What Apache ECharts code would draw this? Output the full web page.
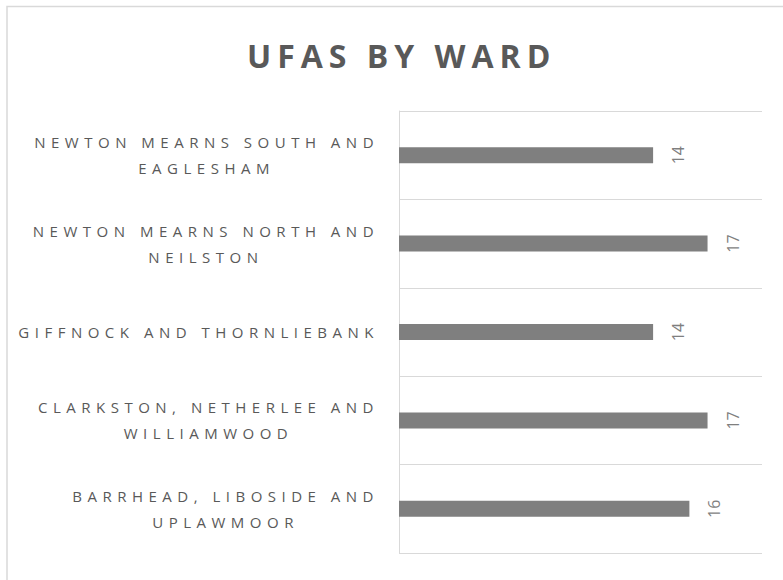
<!DOCTYPE html>
<html>
<head>
<meta charset="utf-8">
<title>UFAS by Ward</title>
<script src="https://cdn.jsdelivr.net/npm/echarts@6/dist/echarts.min.js"></script>
<style>
  html, body { margin: 0; padding: 0; background: #fff; overflow: hidden; }
  #chart { width: 783px; height: 580px; }
  /* spaced-out lettering like the original chart */
  #chart text[style*="32px"] { letter-spacing: 6px; }
  #chart text[style*="15px"] { letter-spacing: 5.5px; }
</style>
</head>
<body>
<div id="chart"></div>
<script>
// wards, top to bottom as shown
var wards = [
  'NEWTON MEARNS SOUTH AND\nEAGLESHAM',
  'NEWTON MEARNS NORTH AND\nNEILSTON',
  'GIFFNOCK AND THORNLIEBANK',
  'CLARKSTON, NETHERLEE AND\nWILLIAMWOOD',
  'BARRHEAD, LIBOSIDE AND\nUPLAWMOOR'
]
var ufasCounts = [14, 17, 14, 17, 16]

// letter spacing per font size, so echarts measures text the way the css draws it
var spacing = { '32px': 6, '15px': 5.5 }
var measureCtx = document.createElement('canvas').getContext('2d')
echarts.setPlatformAPI({
  measureText: function(text, font) {
    measureCtx.font = font || '12px sans-serif'
    var extra = 0
    for (var k in spacing) {
      if (font && font.indexOf(k) >= 0) extra = spacing[k]
    }
    return { width: measureCtx.measureText(text).width + text.length * extra }
  }
})

var chart = echarts.init(document.getElementById('chart'), null, { renderer: 'svg' })

chart.setOption({
  animation: false,
  backgroundColor: '#fff',
  title: {
    text: 'UFAS BY WARD',
    left: 247,
    top: 36,
    padding: 0,
    textStyle: {
      fontFamily: 'Open Sans',
      fontWeight: 'bold',
      fontSize: 32,
      color: '#595959'
    }
  },
  graphic: [{
    type: 'rect',
    shape: { x: 7, y: 6.5, width: 820, height: 620 },
    style: { fill: 'none', stroke: '#d9d9d9', lineWidth: 1.5 },
    silent: true
  }],
  grid: {
    left: 399,
    top: 111,
    right: 21,
    bottom: 27
  },
  xAxis: {
    type: 'value',
    min: 0,
    max: 20,
    show: false
  },
  yAxis: {
    type: 'category',
    inverse: true,
    data: wards,
    axisLine: { show: true, lineStyle: { color: '#d9d9d9', width: 1 } },
    axisTick: { show: false },
    splitLine: { show: true, lineStyle: { color: '#d9d9d9', width: 1 } },
    axisLabel: {
      margin: 20,
      formatter: function(value) {
        // each line centred inside the right-aligned block
        return value.split('\n').map(function(line) {
          return '{c|' + line + '}'
        }).join('\n')
      },
      rich: {
        c: {
          align: 'center',
          fontFamily: 'Open Sans',
          fontSize: 15,
          lineHeight: 26,
          color: '#595959'
        }
      }
    }
  },
  series: [{
    type: 'bar',
    data: ufasCounts,
    barWidth: 16,
    itemStyle: { color: '#7f7f7f' },
    label: {
      show: true,
      position: 'right',
      distance: 25,
      rotate: 90,
      align: 'center',
      verticalAlign: 'middle',
      fontFamily: 'Open Sans',
      fontSize: 16,
      color: '#7f7f7f'
    }
  }]
})
</script>
</body>
</html>
